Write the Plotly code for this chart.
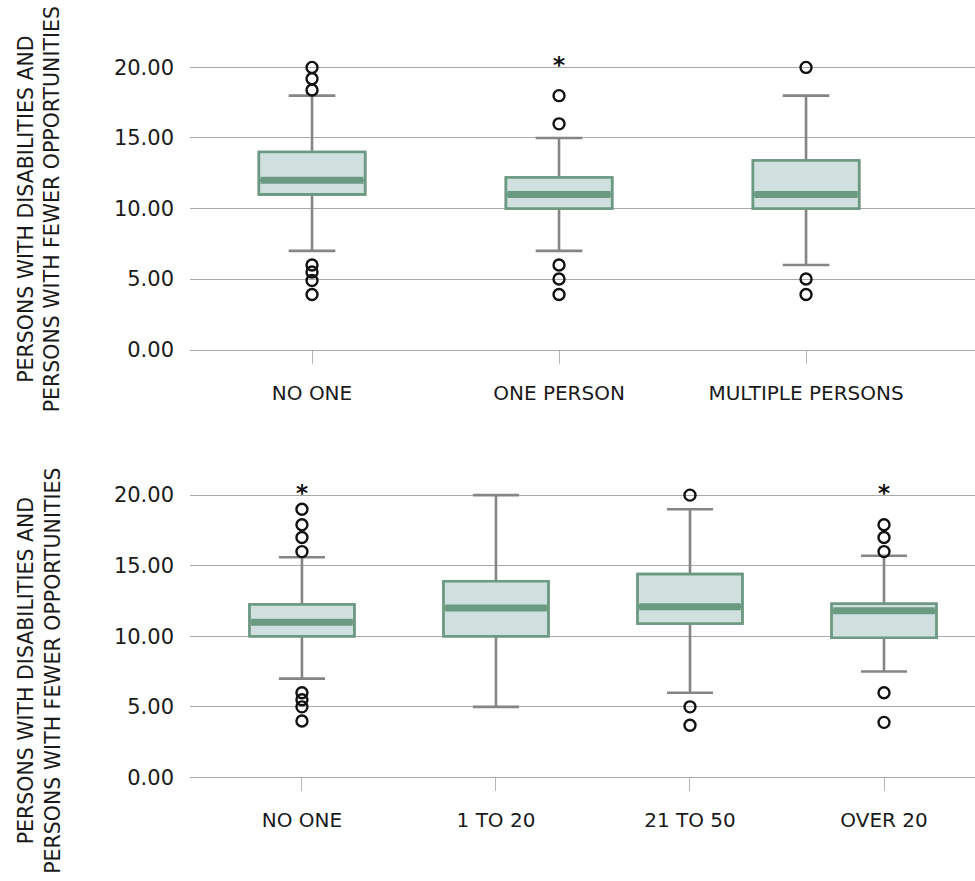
import plotly.graph_objects as go

# ---------------- data ----------------
top_cats = ["NO ONE", "ONE PERSON", "MULTIPLE PERSONS"]
top_q1 = [11.0, 10.0, 10.0]
top_median = [12.0, 11.0, 11.0]
top_q3 = [14.0, 12.2, 13.4]
top_lower = [7.0, 7.0, 6.0]
top_upper = [18.0, 15.0, 18.0]
top_outliers = [[20, 19.2, 18.4, 6, 5.5, 4.9, 3.9], [18, 16, 6, 5, 3.9], [20, 5, 3.9]]
top_extremes = [[], [20], []]

bot_cats = ["NO ONE", "1 TO 20", "21 TO 50", "OVER 20"]
bot_q1 = [10.0, 10.0, 10.9, 9.9]
bot_median = [11.0, 12.0, 12.1, 11.8]
bot_q3 = [12.25, 13.9, 14.4, 12.3]
bot_lower = [7.0, 5.0, 6.0, 7.5]
bot_upper = [15.6, 20.0, 19.0, 15.7]
bot_outliers = [[19, 17.9, 17, 16, 6, 5.5, 5, 4], [], [20, 5, 3.7], [17.9, 17, 16, 6, 3.9]]
bot_extremes = [[20], [], [], [20]]

y_ticks = [0, 5, 10, 15, 20]
y_title = "PERSONS WITH DISABILITIES AND<br>PERSONS WITH FEWER OPPORTUNITIES"

# ---------------- style ----------------
FONT = "DejaVu Sans"
TXT = "#1a1a1a"
GRID = "#a9a9a9"
GREEN = "#6b9a83"
FILL = "#cfe0df"
WHISK = "#858585"

W, H = 975, 881          # reference frame used for placing domains
FIG_H = 892              # browser viewport height (image is scaled back to 881)

fig = go.Figure()


def add_panel(cats, q1, med, q3, lo, up, outl, extr, xa, ya, bw):
    pos = list(range(len(cats)))
    # whiskers (gray)
    fig.add_trace(go.Box(x=pos, q1=q1, median=med, q3=q3, lowerfence=lo, upperfence=up,
                         width=bw, whiskerwidth=0.44, line=dict(color=WHISK, width=2.6),
                         fillcolor="rgba(0,0,0,0)", boxpoints=False, xaxis=xa, yaxis=ya,
                         showlegend=False, hoverinfo="skip"))
    # box (green)
    fig.add_trace(go.Box(x=pos, q1=q1, median=med, q3=q3, lowerfence=q1, upperfence=q3,
                         width=bw, whiskerwidth=0, line=dict(color=GREEN, width=2.6),
                         fillcolor=FILL, boxpoints=False, xaxis=xa, yaxis=ya,
                         showlegend=False, hoverinfo="skip"))
    # thick median band
    mx, my = [], []
    hw = bw / 2 * 0.97
    for p, m in zip(pos, med):
        mx += [p - hw, p + hw, None]
        my += [m, m, None]
    fig.add_trace(go.Scatter(x=mx, y=my, mode="lines", line=dict(color=GREEN, width=7),
                             xaxis=xa, yaxis=ya, showlegend=False, hoverinfo="skip"))
    # outliers
    ox, oy = [], []
    for p, vals in zip(pos, outl):
        ox += [p] * len(vals)
        oy += vals
    fig.add_trace(go.Scatter(x=ox, y=oy, mode="markers",
                             marker=dict(symbol="circle-open", size=11, color="#111",
                                         line=dict(width=2.4, color="#111")),
                             xaxis=xa, yaxis=ya, showlegend=False, hoverinfo="skip"))
    ex, ey = [], []
    for p, vals in zip(pos, extr):
        ex += [p] * len(vals)
        ey += vals
    fig.add_trace(go.Scatter(x=ex, y=ey, mode="text", text=["<b>*</b>"] * len(ex),
                             textposition="middle center",
                             textfont=dict(family=FONT, size=23, color="#111"),
                             xaxis=xa, yaxis=ya, showlegend=False, hoverinfo="skip"))


add_panel(top_cats, top_q1, top_median, top_q3, top_lower, top_upper,
          top_outliers, top_extremes, "x", "y", 0.43)
add_panel(bot_cats, bot_q1, bot_median, bot_q3, bot_lower, bot_upper,
          bot_outliers, bot_extremes, "x2", "y2", 0.54)

xdom = [190 / W, 1.0]


def ydom(y0px, y20px, top_val=21.0):
    ppu = (y0px - y20px) / 20.0
    top_px = y0px - top_val * ppu
    return [1 - y0px / H, 1 - top_px / H]


common_x = dict(showgrid=False, zeroline=False, showline=True, linecolor=GRID, linewidth=1,
                ticks="outside", ticklen=13, tickwidth=1, tickcolor="#b5b5b5",
                tickfont=dict(family=FONT, size=20, color=TXT), ticklabelstandoff=12)
common_y = dict(range=[0, 21], tickvals=y_ticks, ticktext=[f"{v:.2f}" for v in y_ticks],
                showgrid=True, gridcolor=GRID, gridwidth=1, zeroline=False, showline=False,
                ticks="", tickfont=dict(family=FONT, size=21, color=TXT), ticklabelstandoff=15)

fig.update_layout(
    width=W, height=FIG_H,
    margin=dict(l=0, r=0, t=0, b=0),
    paper_bgcolor="white", plot_bgcolor="white",
    boxmode="overlay",
    font=dict(family=FONT, color=TXT),
    xaxis=dict(domain=xdom, anchor="y", range=[-0.494, 2.684], tickvals=list(range(len(top_cats))),
               ticktext=top_cats, **common_x),
    yaxis=dict(domain=ydom(350, 67.5), anchor="x", **common_y),
    xaxis2=dict(domain=xdom, anchor="y2", range=[-0.577, 3.469], tickvals=list(range(len(bot_cats))),
                ticktext=bot_cats, **common_x),
    yaxis2=dict(domain=ydom(778.3, 495.7), anchor="x2", **common_y),
    annotations=[
        dict(text=y_title, textangle=-90, x=39.5 / W, y=1 - 210 / H, xref="paper", yref="paper",
             xanchor="center", yanchor="middle", showarrow=False,
             font=dict(family=FONT, size=20.5, color=TXT)),
        dict(text=y_title, textangle=-90, x=39.5 / W, y=1 - 672 / H, xref="paper", yref="paper",
             xanchor="center", yanchor="middle", showarrow=False,
             font=dict(family=FONT, size=20.5, color=TXT)),
    ],
)

post = (
    "document.documentElement.style.margin='0';"
    "document.documentElement.style.padding='0';"
    "document.documentElement.style.overflow='hidden';"
    "document.body.style.margin='0';"
    "document.body.style.padding='0';"
    "document.body.style.overflow='hidden';"
    "var d=document.getElementById('{plot_id}');"
    "d.style.position='absolute';d.style.left='0px';d.style.top='0px';"
)

fig.write_html("out.html", config={"displayModeBar": False}, post_script=post)
